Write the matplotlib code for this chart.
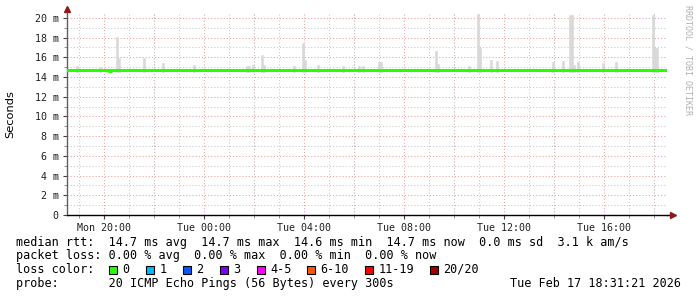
import numpy as np
import matplotlib
matplotlib.use('Agg')
import matplotlib.pyplot as plt
from matplotlib.patches import Rectangle
from matplotlib.ticker import MultipleLocator

# time axis in hours since Mon 00:00
t_start = 18.5225
t_end = 42.5225
step = 5 / 60.0

# smoke spikes: time (h), max rtt (ms)
smoke_t = [18.88, 19.80, 20.48, 20.56, 21.56, 22.32, 23.56, 25.68, 25.76, 25.92,
           26.28, 26.36, 27.56, 27.92, 28.00, 28.52, 29.52, 30.16, 30.32, 30.96,
           31.04, 33.24, 33.32, 34.56, 34.92, 35.00, 35.44, 35.68, 37.92, 38.32,
           38.60, 38.68, 38.76, 38.92, 39.92, 40.44, 41.92, 42.00, 42.08]
smoke_max = [15.1, 15.0, 18.1, 15.9, 15.9, 15.4, 15.2, 15.1, 15.1, 15.2,
             16.2, 15.2, 15.1, 17.5, 15.7, 15.2, 15.1, 15.1, 15.1, 15.5,
             15.5, 16.6, 15.3, 15.1, 20.4, 16.9, 15.7, 15.6, 15.5, 15.6,
             20.3, 20.3, 15.2, 15.5, 15.4, 15.5, 20.3, 16.9, 16.9]
smoke_min = 14.5

# median rtt (ms)
median_t = [18.5225, 20.12, 20.20, 20.28, 42.5225]
median_v = [14.7, 14.7, 14.57, 14.7, 14.7]

xtick_pos = [20, 24, 28, 32, 36, 40]
xtick_lab = ['Mon 20:00', 'Tue 00:00', 'Tue 04:00', 'Tue 08:00', 'Tue 12:00', 'Tue 16:00']
ytick_pos = [0, 2, 4, 6, 8, 10, 12, 14, 16, 18, 20]
ytick_lab = ['0'] + ['%d m' % v for v in ytick_pos[1:]]

loss_labels = ['0', '1', '2', '3', '4-5', '6-10', '11-19', '20/20']
loss_colors = ['#26ff00', '#00b8ff', '#0059ff', '#7e00ff', '#ff00ff', '#ff5500', '#ff0000', '#a10000']
loss_box_x = [109, 146, 183, 220, 257, 307, 365, 430]

W, H = 697, 297
fig = plt.figure(figsize=(W / 100, H / 100), dpi=100)
mono = 'DejaVu Sans Mono'

def fx(px):
    return px / W

def fy(py):
    return 1 - py / H

ax = fig.add_axes([fx(67), fy(215), fx(667) - fx(67), 202 / H])
ax.set_xlim(t_start, t_end)
ax.set_ylim(0, 20.5)

# grid
ax.xaxis.set_major_locator(MultipleLocator(2))
ax.xaxis.set_minor_locator(MultipleLocator(1))
ax.yaxis.set_major_locator(MultipleLocator(2))
ax.yaxis.set_minor_locator(MultipleLocator(1))
ax.grid(which='minor', color='#c8c8c8', linestyle=(0, (1, 2)), linewidth=0.75)
ax.grid(which='major', color='#e8a0a0', linestyle=(0, (1, 2)), linewidth=0.75)
ax.set_axisbelow(True)

ax.set_xticks(xtick_pos, xtick_lab, minor=False)
ax.set_xticks(np.arange(19, 43, 1), minor=True)
ax.set_yticks(ytick_pos, ytick_lab)
# major grid on x every 2h but labels only every 4h
for xv in range(20, 43, 2):
    if xv not in xtick_pos:
        ax.axvline(xv, color='#e8a0a0', linestyle=(0, (1, 2)), linewidth=0.75, zorder=0.5)

ax.tick_params(axis='both', which='major', labelsize=7.2, length=3, width=0.8, color='#404040')
ax.tick_params(axis='both', which='minor', length=2, width=0.6, color='#808080')
ax.tick_params(axis='y', pad=3)
ax.tick_params(axis='x', pad=3)
for lab in ax.get_xticklabels() + ax.get_yticklabels():
    lab.set_family(mono)
    lab.set_color('#202020')

for s in ['top', 'right']:
    ax.spines[s].set_visible(False)
ax.spines['left'].set_color('#606060')
ax.spines['bottom'].set_color('black')
ax.spines['bottom'].set_linewidth(1.0)
ax.spines['left'].set_linewidth(1.0)

# smoke
ax.bar(smoke_t, np.array(smoke_max) - smoke_min, bottom=smoke_min, width=step,
       color='#d8d8d8', edgecolor='#d8d8d8', linewidth=0.4, align='edge', zorder=2)

# median
ax.step(median_t, median_v, where='post', color='#26ff00', linewidth=2.2, zorder=3)

# axis arrows
ax.plot([1.0, 1.008], [0, 0], transform=ax.transAxes, color='black', lw=1.0, clip_on=False)
ax.plot([1.01], [0], marker='>', markersize=4, color='#8b1a1a', transform=ax.transAxes, clip_on=False)
ax.plot([0], [1.02], marker='^', markersize=4, color='#8b1a1a', transform=ax.transAxes, clip_on=False)

fig.text(fx(10), fy(114), 'Seconds', rotation=90, ha='center', va='center', fontsize=8.2, family='DejaVu Sans')
fig.text(fx(688), fy(60), 'RRDTOOL / TOBI OETIKER', rotation=270, ha='center', va='center',
         fontsize=6, family=mono, color='#b0b0b0')

lines = [
    'median rtt:  14.7 ms avg  14.7 ms max  14.6 ms min  14.7 ms now  0.0 ms sd  3.1 k am/s',
    'packet loss: 0.00 % avg  0.00 % max  0.00 % min  0.00 % now',
    'loss color:',
    'probe:       20 ICMP Echo Pings (56 Bytes) every 300s',
]
baselines = [245.7, 259.3, 273.0, 287.0]
for txt, b in zip(lines, baselines):
    fig.text(fx(16), fy(b), txt, ha='left', va='baseline', fontsize=8.45, family=mono, color='black')

fig.text(fx(681), fy(287.0), 'Tue Feb 17 18:31:21 2026', ha='right', va='baseline',
         fontsize=8.45, family=mono, color='black')

for bx, lab, col in zip(loss_box_x, loss_labels, loss_colors):
    fig.add_artist(Rectangle((fx(bx), fy(273.5)), 8 / W, 8 / H, transform=fig.transFigure,
                             facecolor=col, edgecolor='black', linewidth=0.8))
    fig.text(fx(bx + 13.5), fy(273.0), lab, ha='left', va='baseline', fontsize=8.45, family=mono)

fig.savefig('out.png', dpi=100)
